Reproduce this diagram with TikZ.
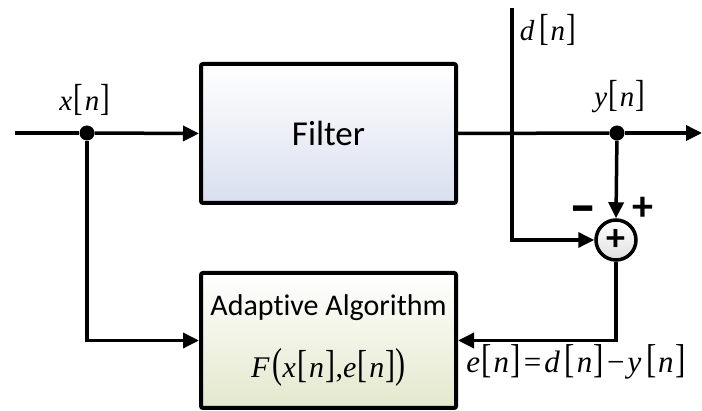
\documentclass[tikz,border=0pt]{standalone}
\usepackage{fontspec}
\setmainfont{Liberation Serif}
\newfontfamily\labelfont[Ligatures=NoCommon]{Carlito}
\usetikzlibrary{arrows.meta}
\definecolor{filterblue}{HTML}{D9DFEF}
\definecolor{algogreen}{HTML}{E3E8CC}
\def\bkt#1{\scalebox{1}[1.3]{[}#1\scalebox{1}[1.3]{]}}
\def\sig#1{\textit{#1}\kern1.5pt\bkt{\kern1.5pt\textit{n}\kern1.5pt}}
\def\sigw#1{\textit{#1}\kern5pt\bkt{\kern1.5pt\textit{n}\kern1.5pt}}
\tikzset{
	wire/.style={line width=3.5pt},
	feed/.style={wire, -{Triangle[length=16pt,width=15pt]}},
	block/.style={draw, line width=4pt, rounded corners=2pt, minimum width=255pt, inner sep=0pt},
	tap/.style={circle, fill, inner sep=0pt, minimum size=15pt},
	siglabel/.style={font=\fontsize{29}{32}\selectfont, inner sep=0pt},
	sign/.style={font=\labelfont\bfseries\fontsize{42}{42}\selectfont, inner sep=0pt}
}

\begin{document}
\begin{tikzpicture}[x=1pt, y=-1pt]
		%%%%% START %%%%%
		\useasboundingbox (0, 0) rectangle (702, 411);
		
		\node[block, minimum height=139pt, top color=white, bottom color=filterblue,
			font=\labelfont\fontsize{35}{40}\selectfont] (filter) at (328.5, 133.5) {Filter};
		\node[block, minimum height=135pt, top color=white, bottom color=algogreen,
			align=center, font=\labelfont\fontsize{30}{36}\selectfont] (adapt) at (328.5, 340.5)
			{Adaptive Algorithm\\[26pt]
			{\rmfamily\fontsize{30}{32}\selectfont\textit{F}\kern3pt\scalebox{1}[1.4]{(}\sig{x},\sig{e}\scalebox{1}[1.4]{)}}};
		
		\node[circle, draw, line width=3.5pt, minimum size=40pt, inner sep=0pt,
			top color=white, bottom color=black!12, font=\labelfont\bfseries\fontsize{38}{38}\selectfont] (sum) at (616, 240) {+};
		
		\coordinate (in) at (15, 133);
		\node[tap] (xtap) at (87, 133) {};
		\node[tap] (ytap) at (617, 133) {};
		\coordinate (out) at (702, 133);
		\coordinate (dtop) at (512, 8);
		
		\draw[wire] (in) -- (xtap);
		\draw[feed] (xtap) -- (filter.west);
		\draw[feed] (xtap) |- (adapt.west);
		\draw[wire] (filter.east) -- (ytap);
		\draw[feed] (ytap) -- (out);
		\draw[feed] (ytap) -- (sum.north);
		\draw[feed] (dtop) |- (sum.west);
		\draw[feed] (sum.south) |- (adapt.east);
		
		\node[siglabel] (xlab) at (85, 100) {\sig{x}};
		\node[siglabel] (ylab) at (620, 97) {\sig{y}};
		\node[siglabel] (dlab) at (548, 30) {\sigw{d}};
		\node[siglabel, font=\fontsize{31}{34}\selectfont] (elab) at (576, 362)
			{\sig{e}\kern3pt=\kern3pt\sigw{d}\kern3pt−\kern3pt\sigw{y}};
		
		\node[sign] (minus) at (583, 216) {\scalebox{1.3}[1.5]{–}};
		\node[sign] (plus) at (643, 209) {+};
		%%%%% END %%%%%
	\end{tikzpicture}
\end{document}
